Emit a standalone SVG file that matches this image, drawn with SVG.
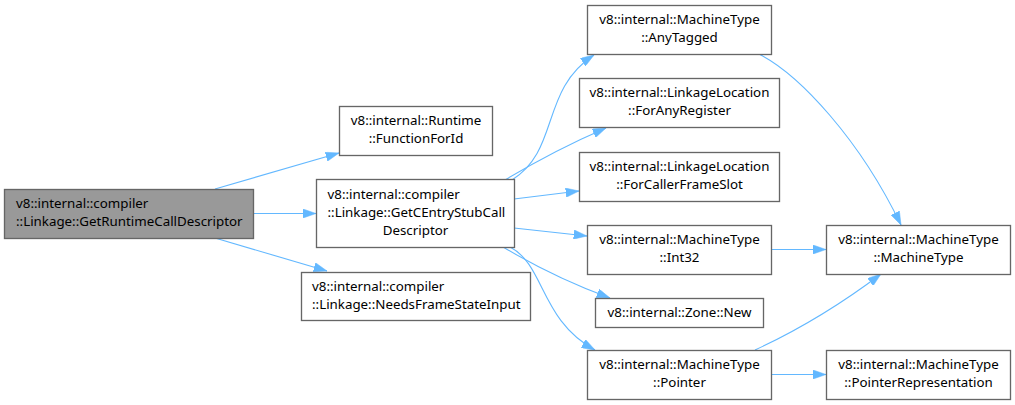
<svg xmlns="http://www.w3.org/2000/svg" width="1015" height="405" viewBox="0 0 1015 405">
<style>
  .box { fill: #ffffff; stroke: #666666; stroke-width: 1.33; }
  .cur { fill: #999999; stroke: #666666; stroke-width: 1.33; }
  text { font-family: "Noto Sans", "Open Sans", "DejaVu Sans", sans-serif; font-size: 13.33px; fill: #000000; }
  .c { text-anchor: middle; }
  .edge { fill: none; stroke: #63b8ff; stroke-width: 1.1; marker-end: url(#arrow); }
</style>
<defs>
  <marker id="arrow" viewBox="0 0 13.3 9.3" refX="13.3" refY="4.65" markerWidth="13.3" markerHeight="9.3" markerUnits="userSpaceOnUse" orient="auto">
    <path d="M0,0 L13.3,4.65 L0,9.3 z" fill="#63b8ff" stroke="#63b8ff" stroke-width="0.5"/>
  </marker>
</defs>
<rect width="1015" height="405" fill="#ffffff"/>
<g id="edges">
  <path class="edge" d="M215,189 L339,153"/>
  <path class="edge" d="M253,213.5 L316,213.5"/>
  <path class="edge" d="M215,238 L327,271"/>
  <path class="edge" d="M512,180 C560,150 540,90 594,55"/>
  <path class="edge" d="M505,180 Q555,150 606,128"/>
  <path class="edge" d="M514,199 L579,191"/>
  <path class="edge" d="M514,228 L587,236"/>
  <path class="edge" d="M503,247 Q555,278 610,298"/>
  <path class="edge" d="M510,247 C545,265 540,320 595,350"/>
  <path class="edge" d="M759,54 C800,75 860,140 901,225"/>
  <path class="edge" d="M771,249.5 L826,249.5"/>
  <path class="edge" d="M755,350 Q820,320 881,274"/>
  <path class="edge" d="M771,374.5 L826,374.5"/>
</g>
<g id="node1">
  <rect class="cur" x="4.5" y="189.5" width="249" height="49"/>
  <text x="16" y="208">v8::internal::compiler</text>
  <text x="16" y="226">::Linkage::GetRuntimeCallDescriptor</text>
</g>
<g id="node2">
  <rect class="box" x="339.5" y="106.5" width="153" height="49"/>
  <text class="c" x="416" y="125">v8::internal::Runtime</text>
  <text class="c" x="416" y="143">::FunctionForId</text>
</g>
<g id="node3">
  <rect class="box" x="316.5" y="179.5" width="198" height="68"/>
  <text x="327.5" y="199">v8::internal::compiler</text>
  <text x="327.5" y="217">::Linkage::GetCEntryStubCall</text>
  <text class="c" x="415.5" y="235">Descriptor</text>
</g>
<g id="node4">
  <rect class="box" x="301.5" y="272.5" width="229" height="48"/>
  <text x="312" y="291">v8::internal::compiler</text>
  <text x="312" y="309">::Linkage::NeedsFrameStateInput</text>
</g>
<g id="node5">
  <rect class="box" x="587.5" y="5.5" width="184" height="49"/>
  <text class="c" x="679.5" y="24">v8::internal::MachineType</text>
  <text class="c" x="679.5" y="42">::AnyTagged</text>
</g>
<g id="node6">
  <rect class="box" x="579.5" y="78.5" width="200" height="49"/>
  <text class="c" x="679.5" y="97">v8::internal::LinkageLocation</text>
  <text class="c" x="679.5" y="115">::ForAnyRegister</text>
</g>
<g id="node7">
  <rect class="box" x="579.5" y="152.5" width="200" height="49"/>
  <text class="c" x="679.5" y="171">v8::internal::LinkageLocation</text>
  <text class="c" x="679.5" y="189">::ForCallerFrameSlot</text>
</g>
<g id="node8">
  <rect class="box" x="587.5" y="225.5" width="184" height="49"/>
  <text class="c" x="679.5" y="244">v8::internal::MachineType</text>
  <text class="c" x="679.5" y="262">::Int32</text>
</g>
<g id="node9">
  <rect class="box" x="595.5" y="298.5" width="168" height="29"/>
  <text class="c" x="679.5" y="317">v8::internal::Zone::New</text>
</g>
<g id="node10">
  <rect class="box" x="587.5" y="350.5" width="184" height="49"/>
  <text class="c" x="679.5" y="369">v8::internal::MachineType</text>
  <text class="c" x="679.5" y="387">::Pointer</text>
</g>
<g id="node11">
  <rect class="box" x="826.5" y="225.5" width="184" height="49"/>
  <text class="c" x="918.5" y="244">v8::internal::MachineType</text>
  <text class="c" x="918.5" y="262">::MachineType</text>
</g>
<g id="node12">
  <rect class="box" x="826.5" y="350.5" width="184" height="49"/>
  <text class="c" x="918.5" y="369">v8::internal::MachineType</text>
  <text class="c" x="918.5" y="387">::PointerRepresentation</text>
</g>
</svg>
